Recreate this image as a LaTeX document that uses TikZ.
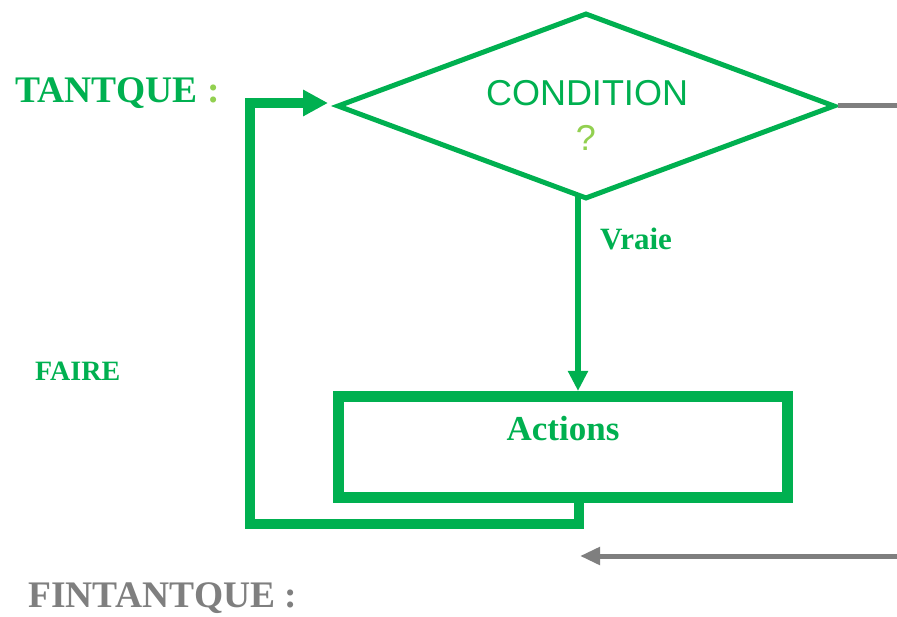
\documentclass[tikz,border=0pt]{standalone}
\usepackage{fontspec}
\setmainfont{Liberation Serif}
\newfontfamily\sansfont{Liberation Sans}
\usetikzlibrary{shapes.geometric,arrows.meta}
\definecolor{offgreen}{RGB}{0,176,80}
\definecolor{limegreen}{RGB}{146,208,80}
\definecolor{midgray}{RGB}{127,127,127}
\tikzset{
  kw/.style={font=\fontsize{37.5}{40}\selectfont\bfseries, inner sep=0pt, anchor=base west},
  flowline/.style={draw=offgreen, line width=#1},
  grayline/.style={draw=midgray, line width=5pt},
}
\begin{document}
\begin{tikzpicture}[x=1pt,y=-1pt]
  \useasboundingbox (0,0) rectangle (897,617);

  % decision and action shapes
  \node[diamond, draw=offgreen, line width=5pt, minimum width=498pt,
        minimum height=186pt, inner sep=0pt] (cond) at (586,106) {};
  \node[rectangle, draw=offgreen, line width=11pt, minimum width=449pt,
        minimum height=101pt, inner sep=0pt] (box) at (563,447) {};

  % texts
  \node[kw, text=offgreen] (tq) at (15,103) {TANTQUE \textcolor{limegreen}{:}};
  \node[kw, text=offgreen, font=\fontsize{28}{30}\selectfont\bfseries] (faire) at (35,381) {FAIRE};
  \node[kw, text=midgray] (ftq) at (28,607) {FINTANTQUE :};
  \node[inner sep=0pt, anchor=base, text=offgreen, font=\sansfont\fontsize{36}{40}\selectfont] (ctext) at (587,106) {CONDITION};
  \node[inner sep=0pt, anchor=base, text=limegreen, font=\sansfont\fontsize{36}{40}\selectfont] (qm) at (586,151) {?};
  \node[kw, text=offgreen, font=\fontsize{31}{34}\selectfont\bfseries] (vraie) at (600,250) {Vraie};
  \node[inner sep=0pt, anchor=base, text=offgreen, font=\fontsize{35}{38}\selectfont\bfseries] (act) at (563,440) {Actions};

  % connector coordinates
  \coordinate (condOut) at (578,196);
  \coordinate (boxIn) at (578,391);
  \coordinate (stub) at (579,497);
  \coordinate (loopCorner) at (250,524);
  \coordinate (loopTip) at (328,103);
  \coordinate (exitEnd) at (897,106);
  \coordinate (backStart) at (897,556);
  \coordinate (backTip) at (580,556);

  % true branch
  \draw[flowline=6.5pt, -{Triangle[length=20pt,width=19pt]}] (condOut) -- (boxIn);
  % loop back to the condition
  \draw[flowline=9.5pt, line join=miter, -{Triangle[length=25pt,width=25pt]}]
    (stub) |- (loopCorner) |- (loopTip);
  % false branch
  \draw[grayline] (cond.east) -- (exitEnd);
  \draw[grayline, -{Triangle[length=20pt,width=17pt]}] (backStart) -- (backTip);
\end{tikzpicture}
\end{document}
